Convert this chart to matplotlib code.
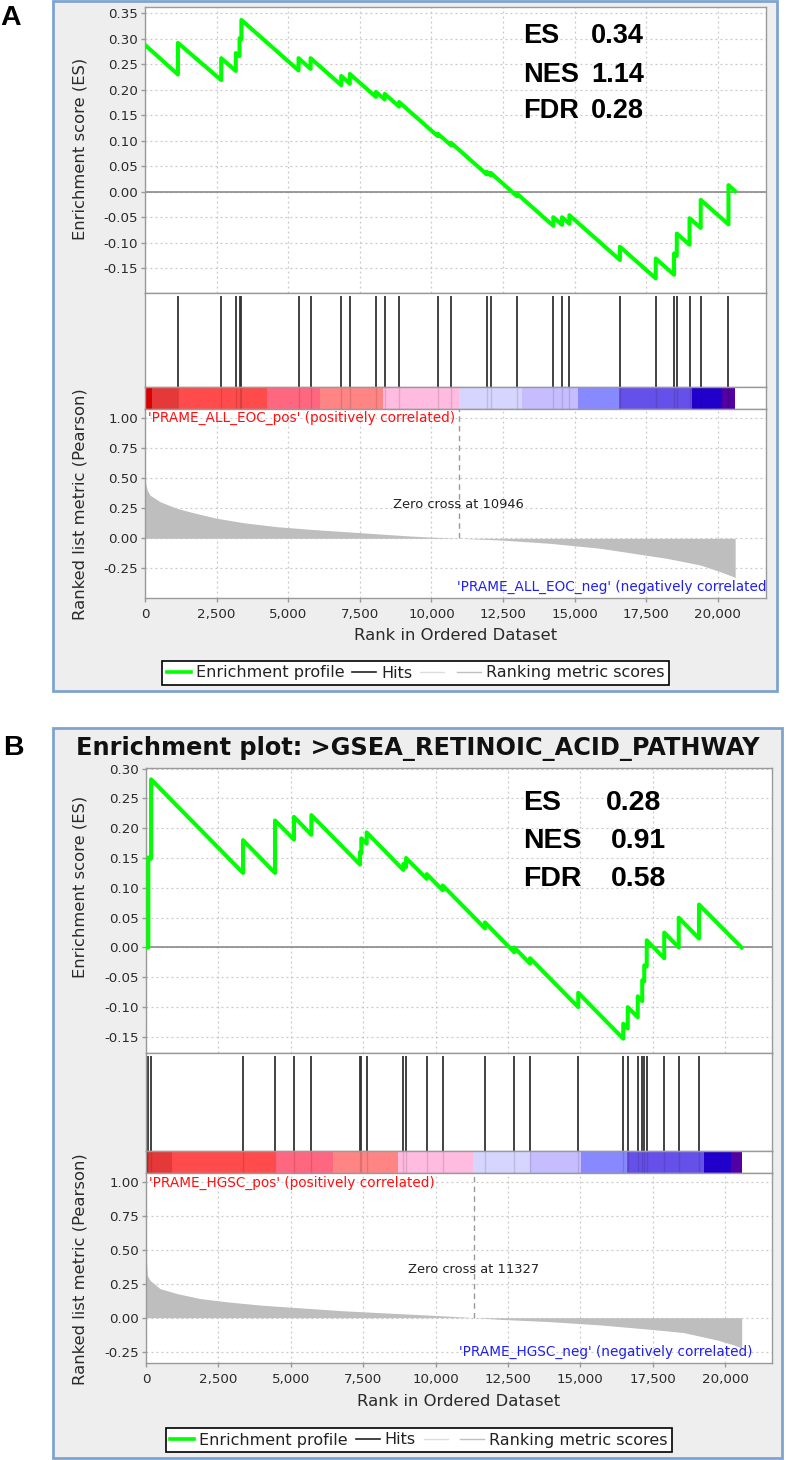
import numpy as np
import matplotlib
matplotlib.use('Agg')
import matplotlib.pyplot as plt
from matplotlib.patches import Rectangle
from matplotlib.lines import Line2D
from matplotlib.ticker import FuncFormatter, FixedLocator

plt.rcParams['font.family'] = ['DejaVu Sans']
plt.rcParams['axes.unicode_minus'] = False

# ---------------- data : panel A ----------------
A_hits = [1150, 2660, 3170, 3300, 3365, 5360, 5780, 6850, 7150, 8060, 8370, 8870,
          10220, 10685, 11930, 12070, 12990, 14255, 14560, 14815, 16580, 17830,
          18470, 18565, 19010, 19400, 20370]
A_es_rank = [0, 1150, 1150, 2660, 2660, 3170, 3170, 3300, 3300, 3365, 3365,
             5360, 5360, 5780, 5780, 6850, 6850, 7150, 7150, 8060, 8060, 8370, 8370,
             8870, 8870, 10220, 10220, 10685, 10685, 11930, 11930, 12070, 12070,
             12990, 12990, 14255, 14255, 14560, 14560, 14815, 14815, 16580, 16580,
             17830, 17830, 18470, 18470, 18565, 18565, 19010, 19010, 19400, 19400,
             20370, 20370, 20600]
A_es_val = [0.288, 0.230, 0.292, 0.219, 0.262, 0.237, 0.272, 0.266, 0.301, 0.299, 0.337,
            0.238, 0.262, 0.241, 0.262, 0.209, 0.227, 0.212, 0.231, 0.186, 0.196, 0.181, 0.192,
            0.167, 0.176, 0.109, 0.114, 0.091, 0.096, 0.034, 0.039, 0.032, 0.037,
            -0.009, -0.004, -0.067, -0.050, -0.065, -0.050, -0.063, -0.046, -0.134, -0.108,
            -0.170, -0.131, -0.163, -0.121, -0.126, -0.082, -0.104, -0.052, -0.071, -0.016,
            -0.064, 0.013, 0.001]
A_metric_rank = [0, 30, 82, 175, 524, 1106, 1687, 2503, 3434, 4598, 5762, 7508, 9254,
                 10186, 10946, 12397, 14143, 15889, 17052, 18216, 19380, 20079, 20545, 20603]
A_metric_val = [0.50, 0.45, 0.40, 0.36, 0.305, 0.25, 0.213, 0.167, 0.13, 0.097, 0.075, 0.047,
                0.019, 0.008, 0.0, -0.014, -0.042, -0.083, -0.125, -0.167, -0.222, -0.278,
                -0.32, -0.33]
A_cbar_edges = [0, 234, 1163, 4250, 6111, 8322, 10975, 13154, 15131, 16562, 19091, 20138, 20603]
A_zero_cross = 10946
A_stats_names = ['ES', 'NES', 'FDR']
A_stats_vals = ['0.34', '1.14', '0.28']
A_pos_label = "'PRAME_ALL_EOC_pos' (positively correlated)"
A_neg_label = "'PRAME_ALL_EOC_neg' (negatively correlated)"

# ---------------- data : panel B ----------------
B_hits = [80, 175, 3350, 4455, 5110, 5710, 7390, 7435, 7620, 8885, 8980, 9695, 10245,
          11705, 12715, 13260, 14925, 16480, 16635, 16980, 17135, 17205, 17290, 17895,
          18395, 19095]
B_es_rank = [0, 80, 80, 175, 175, 3350, 3350, 4455, 4455, 5110, 5110, 5710, 5710,
             7390, 7390, 7435, 7435, 7620, 7620, 8885, 8885, 8980, 8980, 9695, 9695,
             10245, 10245, 11705, 11705, 12715, 12715, 13260, 13260, 14925, 14925,
             16480, 16480, 16635, 16635, 16980, 16980, 17135, 17135, 17205, 17205,
             17290, 17290, 17895, 17895, 18395, 18395, 19095, 19095, 20570]
B_es_val = [0.0, 0.0, 0.151, 0.149, 0.282, 0.125, 0.180, 0.125, 0.213, 0.181, 0.219,
            0.189, 0.222, 0.139, 0.160, 0.158, 0.183, 0.174, 0.193, 0.130, 0.140,
            0.135, 0.150, 0.115, 0.123, 0.096, 0.104, 0.032, 0.042, -0.008, 0.000,
            -0.027, -0.018, -0.100, -0.076, -0.153, -0.128, -0.136, -0.100, -0.117, -0.082,
            -0.090, -0.055, -0.057, -0.030, -0.032, 0.012, -0.018, 0.025, 0.000, 0.050,
            0.015, 0.072, 0.0]
B_metric_rank = [0, 45, 138, 483, 1060, 1865, 2787, 3937, 5087, 6813, 8539, 9693, 10843,
                 11327, 12224, 13950, 15677, 17403, 18553, 19706, 20280, 20569]
B_metric_val = [0.48, 0.31, 0.275, 0.214, 0.178, 0.141, 0.117, 0.093, 0.076, 0.051, 0.032,
                0.020, 0.007, 0.0, -0.012, -0.029, -0.053, -0.085, -0.109, -0.163, -0.199,
                -0.223]
B_cbar_edges = [0, 69, 887, 4454, 6446, 8713, 11281, 13260, 15021, 16598, 19267, 20200, 20569]
B_zero_cross = 11327
B_stats_names = ['ES', 'NES', 'FDR']
B_stats_vals = ['0.28', '0.91', '0.58']
B_pos_label = "'PRAME_HGSC_pos' (positively correlated)"
B_neg_label = "'PRAME_HGSC_neg' (negatively correlated)"
B_title = 'Enrichment plot: >GSEA_RETINOIC_ACID_PATHWAY'

cbar_colors = ['#D80000', '#E53838', '#FF4B4B', '#FF6680', '#FF8585', '#FFBBE0',
               '#D5D5FF', '#C5BDFF', '#8888FF', '#6650EA', '#2200CC', '#5200A3']
x_ticks = [0, 2500, 5000, 7500, 10000, 12500, 15000, 17500, 20000]
metric_ticks = [-0.25, 0.0, 0.25, 0.5, 0.75, 1.0]
A_es_ticks = [-0.15, -0.10, -0.05, 0.0, 0.05, 0.10, 0.15, 0.20, 0.25, 0.30, 0.35]
B_es_ticks = [-0.15, -0.10, -0.05, 0.0, 0.05, 0.10, 0.15, 0.20, 0.25, 0.30]

# ---------------- figure ----------------
W, H = 786, 1460
fig = plt.figure(figsize=(W / 100, H / 100), dpi=100)
fig.patch.set_facecolor('white')


def fx(x):
    return x / W


def fy(y):
    return 1 - y / H


def ax_px(l, t, r, b):
    return fig.add_axes([l / W, 1 - b / H, (r - l) / W, (b - t) / H])


def frame(x0, y0, x1, y1):
    fig.add_artist(Rectangle((fx(x0), fy(y1)), (x1 - x0) / W, (y1 - y0) / H,
                             transform=fig.transFigure, facecolor='#EEEEEE',
                             edgecolor='#7FA3CF', lw=2, zorder=0))


SPINE = '#9A9A9A'
GRID = '#C8C8C8'
TXT = '#2A2A2A'
TICKFS = 9.6
LABFS = 11.8


def style(ax):
    ax.set_facecolor('white')
    for s in ax.spines.values():
        s.set_color(SPINE)
        s.set_linewidth(1)


def grid(ax):
    ax.grid(True, color=GRID, linestyle=(0, (1.5, 2.5)), lw=0.9)
    ax.set_axisbelow(True)


def panel(L, T, R, bounds, xmax, es_ylim, es_ticks, m_ylim, hits, es_r, es_v,
          m_r, m_v, edges, zc, zc_y, pos_lab, pos_y, neg_lab, neg_x, neg_y,
          ylab_es_y, ylab_m_y, xlab_y):
    es_b, hit_b, cb_b, m_b = bounds
    # ES plot
    ax = ax_px(L, T, R, es_b)
    style(ax)
    ax.plot(es_r, es_v, color='#00FF00', lw=2.9, solid_joinstyle='round', zorder=3)
    ax.axhline(0, color='#8A8A8A', lw=1.2, zorder=2)
    ax.set_xlim(0, xmax)
    ax.set_ylim(*es_ylim)
    ax.yaxis.set_major_locator(FixedLocator(es_ticks))
    ax.yaxis.set_major_formatter(FuncFormatter(lambda v, p: '%.2f' % v))
    ax.xaxis.set_major_locator(FixedLocator(x_ticks))
    ax.tick_params(axis='x', length=0, labelbottom=False)
    ax.tick_params(axis='y', length=3, width=1, color=SPINE, pad=2,
                   labelsize=TICKFS, labelcolor=TXT)
    grid(ax)
    # hits
    ah = ax_px(L, es_b, R, hit_b)
    style(ah)
    ah.vlines(hits, 0, 0.97, color='#333333', lw=1.3)
    ah.set_xlim(0, xmax)
    ah.set_ylim(0, 1)
    ah.set_xticks([])
    ah.set_yticks([])
    # colour bar
    ac = ax_px(L, hit_b, R, cb_b)
    style(ac)
    ac.bar(edges[:-1], 1, width=np.diff(edges), align='edge', color=cbar_colors, lw=0)
    ac.vlines(hits, 0, 1, color='black', lw=1, alpha=0.12)
    ac.set_xlim(0, xmax)
    ac.set_ylim(0, 1)
    ac.set_xticks([])
    ac.set_yticks([])
    # ranked metric
    am = ax_px(L, cb_b, R, m_b)
    style(am)
    am.fill_between(m_r, m_v, 0, color='#BEBEBE', lw=0, zorder=2)
    am.set_xlim(0, xmax)
    am.set_ylim(*m_ylim)
    am.vlines(zc, 0, m_ylim[1], color='#999999', lw=1, linestyles=(0, (4, 3)), zorder=3)
    am.text(zc, zc_y, 'Zero cross at %d' % zc, ha='center', va='center',
            fontsize=9.4, color='#222222', zorder=4)
    am.text(110, pos_y, pos_lab, ha='left', va='center', fontsize=9.8, color='#FF1010', zorder=4)
    am.text(neg_x, neg_y, neg_lab, ha='right', va='center', fontsize=9.8, color='#2020F0',
            zorder=4, clip_on=True)
    am.yaxis.set_major_locator(FixedLocator(metric_ticks))
    am.yaxis.set_major_formatter(FuncFormatter(lambda v, p: '%.2f' % v))
    am.xaxis.set_major_locator(FixedLocator(x_ticks))
    am.xaxis.set_major_formatter(FuncFormatter(lambda v, p: '{:,.0f}'.format(v)))
    am.tick_params(axis='both', length=3, width=1, color=SPINE, labelsize=TICKFS,
                   labelcolor=TXT)
    am.tick_params(axis='y', pad=2)
    am.tick_params(axis='x', pad=4)
    grid(am)
    # labels
    fig.text(fx(80), fy(ylab_es_y), 'Enrichment score (ES)', rotation=90, ha='center',
             va='center', fontsize=LABFS, color=TXT)
    fig.text(fx(80), fy(ylab_m_y), 'Ranked list metric (Pearson)', rotation=90,
             ha='center', va='center', fontsize=LABFS, color=TXT)
    fig.text(fx((L + R) / 2), fy(xlab_y), 'Rank in Ordered Dataset', ha='center',
             va='center', fontsize=LABFS, color=TXT)
    return ax


def legend(cx, cy):
    handles = [Line2D([], [], color='#00FF00', lw=2.6),
               Line2D([], [], color='#222222', lw=1.2),
               Line2D([], [], color='#DDDDDD', lw=1),
               Line2D([], [], color='#C0C0C0', lw=1)]
    labels = ['Enrichment profile', 'Hits', '', 'Ranking metric scores']
    lg = fig.legend(handles, labels, loc='center', bbox_to_anchor=(fx(cx), fy(cy)),
                    ncol=4, frameon=True, fancybox=False, edgecolor='black',
                    facecolor='white', framealpha=1, fontsize=11.5, handlelength=1.5,
                    handletextpad=0.3, columnspacing=0.5, borderpad=0.3,
                    borderaxespad=0)
    lg.get_frame().set_linewidth(1.2)
    for t in lg.get_texts():
        t.set_color('#222222')


# ---------- Panel A ----------
frame(53, 1, 777, 691)
panel(145, 7, 766, (293, 387, 409, 598), 21680, (-0.1987, 0.3624), A_es_ticks,
      (-0.4975, 1.0775), A_hits, A_es_rank, A_es_val, A_metric_rank, A_metric_val,
      A_cbar_edges, A_zero_cross, 0.28, A_pos_label, 1.0, A_neg_label, 21870, -0.403,
      149, 504, 636)
legend(415.5, 673)
fig.text(fx(0), fy(25), 'A', fontsize=20.5, fontweight='bold', family='Liberation Sans',
         ha='left', va='baseline')
for i, (n, v) in enumerate(zip(A_stats_names, A_stats_vals)):
    yb = [43, 82, 118][i]
    fig.text(fx(522.7), fy(yb), n, fontsize=19.5, fontweight='bold',
             family='Liberation Sans', ha='left', va='baseline')
    fig.text(fx(591), fy(yb), v, fontsize=19.5, fontweight='bold',
             family='Liberation Sans', ha='left', va='baseline')

# ---------- Panel B ----------
frame(53, 728, 782, 1458)
panel(146, 768, 772, (1053, 1151, 1173, 1363), 21616, (-0.177, 0.301), B_es_ticks,
      (-0.333, 1.064), B_hits, B_es_rank, B_es_val, B_metric_rank, B_metric_val,
      B_cbar_edges, B_zero_cross, 0.358, B_pos_label, 0.993, B_neg_label, 20950, -0.252,
      887, 1269, 1401)
legend(419, 1440)
fig.text(fx(3), fy(755), 'B', fontsize=20.5, fontweight='bold', family='Liberation Sans',
         ha='left', va='baseline')
fig.text(fx(417.5), fy(755), B_title, fontsize=17.3, fontweight='bold', ha='center',
         va='baseline', color='#111111')
for i, (n, v) in enumerate(zip(B_stats_names, B_stats_vals)):
    yb = [810, 848, 886][i]
    xv = [606, 611, 611][i]
    fig.text(fx(522.7), fy(yb), n, fontsize=20.5, fontweight='bold',
             family='Liberation Sans', ha='left', va='baseline')
    fig.text(fx(xv), fy(yb), v, fontsize=20.5, fontweight='bold',
             family='Liberation Sans', ha='left', va='baseline')

fig.savefig('out.png', dpi=100)
